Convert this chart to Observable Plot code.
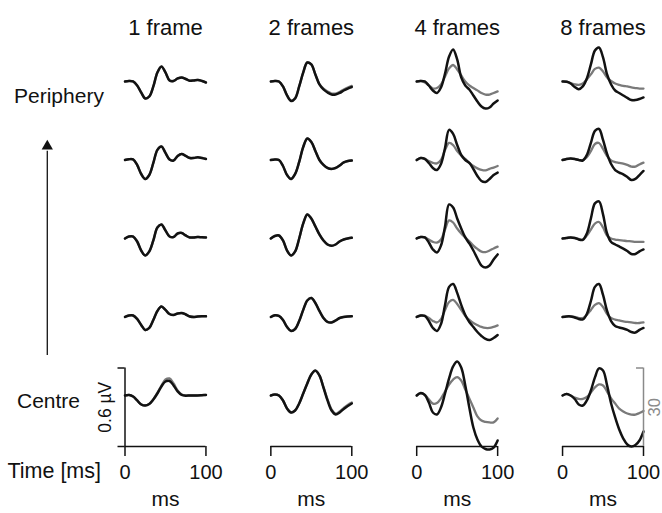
<!DOCTYPE html>
<html><head><meta charset="utf-8">
<script src="https://cdn.jsdelivr.net/npm/d3@7"></script>
<script src="https://cdn.jsdelivr.net/npm/@observablehq/plot@0.6"></script>
<style>html,body{margin:0;padding:0;background:#fff;}#chart{width:662px;height:513px;overflow:hidden;}</style>
</head><body><div id="chart"></div>
<script>
// Columns (stimulus duration) and rows (eccentricity, top = periphery)
const frames = ["1 frame", "2 frames", "4 frames", "8 frames"];
const rows = ["Periphery", "Ring 4", "Ring 3", "Ring 2", "Centre"];
const rowLabels = ["Periphery", "", "", "", "Centre"];
const times = [0, 5, 10, 15, 20, 25, 30, 35, 40, 45, 50, 55, 60, 65, 70, 75, 80, 85, 90, 95, 100]; // ms
const xTicks = [0, 100];
const blackScaleBar = 0.6;   // µV
const grayScaleBar = 30;     // gray-trace units

// Black traces (µV, relative to baseline); one array per column
const black_r1 = [
  [0, 0.004, 0, -0.031, -0.084, -0.130, -0.115, -0.038, 0.069, 0.115, 0.069, 0.008, 0.004, 0.023, 0.031, 0.019, 0.006, 0.008, 0.011, 0.004, -0.008],
  [0, 0.004, 0, -0.038, -0.107, -0.149, -0.130, -0.038, 0.069, 0.145, 0.130, 0.054, -0.023, -0.061, -0.084, -0.099, -0.099, -0.088, -0.069, -0.054, -0.042],
  [0, 0.004, 0, -0.031, -0.069, -0.088, -0.046, 0.061, 0.191, 0.245, 0.168, 0.031, -0.031, -0.061, -0.107, -0.153, -0.191, -0.207, -0.199, -0.168, -0.145],
  [0, -0.002, -0.015, -0.042, -0.059, -0.038, 0.023, 0.130, 0.237, 0.260, 0.184, 0.054, -0.023, -0.069, -0.088, -0.107, -0.126, -0.142, -0.142, -0.134, -0.122]
];
const black_r2 = [
  [0, 0.006, 0.004, -0.038, -0.107, -0.145, -0.115, -0.023, 0.077, 0.103, 0.054, 0.004, -0.004, 0.031, 0.046, 0.031, 0.015, 0.015, 0.021, 0.015, 0.008],
  [0, 0.004, 0, -0.046, -0.115, -0.145, -0.107, -0.015, 0.099, 0.164, 0.138, 0.069, 0, -0.038, -0.061, -0.069, -0.061, -0.042, -0.019, -0.008, -0.004],
  [0, 0.015, 0.008, -0.023, -0.061, -0.077, -0.031, 0.092, 0.230, 0.199, 0.115, 0.038, 0, -0.023, -0.069, -0.122, -0.161, -0.168, -0.145, -0.115, -0.096],
  [0, 0.008, 0.012, 0.008, 0, -0.004, 0.038, 0.130, 0.222, 0.237, 0.153, 0.046, -0.031, -0.077, -0.096, -0.110, -0.130, -0.153, -0.145, -0.115, -0.084]
];
const black_r3 = [
  [0, 0.015, 0.015, -0.023, -0.092, -0.130, -0.099, -0.015, 0.084, 0.107, 0.061, 0.015, 0.011, 0.038, 0.042, 0.023, 0.008, 0.008, 0.011, 0.009, 0.008],
  [0, 0.019, 0.023, -0.015, -0.092, -0.130, -0.099, 0, 0.115, 0.184, 0.153, 0.092, 0.031, -0.015, -0.046, -0.056, -0.046, -0.023, -0.008, 0, 0.005],
  [0, 0.011, 0.008, -0.031, -0.084, -0.107, -0.054, 0.092, 0.260, 0.237, 0.153, 0.077, 0.008, -0.038, -0.092, -0.153, -0.207, -0.222, -0.207, -0.161, -0.122],
  [0, 0.004, 0.008, 0.004, -0.008, -0.011, 0.038, 0.153, 0.268, 0.283, 0.184, 0.038, -0.027, -0.046, -0.061, -0.077, -0.096, -0.119, -0.119, -0.099, -0.084]
];
const black_r4 = [
  [0, 0.011, 0.011, -0.015, -0.061, -0.099, -0.084, -0.023, 0.046, 0.080, 0.054, 0.023, 0.015, 0.027, 0.031, 0.019, 0.004, 0, 0.004, 0.006, 0.005],
  [0, 0.013, 0.008, -0.023, -0.077, -0.107, -0.092, -0.031, 0.054, 0.126, 0.145, 0.107, 0.046, -0.008, -0.038, -0.042, -0.027, -0.008, 0, 0.004, 0.005],
  [0, 0.011, 0.008, -0.031, -0.084, -0.107, -0.054, 0.092, 0.230, 0.252, 0.184, 0.092, 0.015, -0.038, -0.077, -0.115, -0.145, -0.168, -0.176, -0.161, -0.138],
  [0, 0.004, 0.004, -0.004, -0.015, -0.019, 0.023, 0.122, 0.230, 0.252, 0.168, 0.046, -0.031, -0.069, -0.080, -0.088, -0.099, -0.115, -0.119, -0.099, -0.084]
];
const black_r5 = [
  [0, 0.004, -0.008, -0.038, -0.069, -0.077, -0.065, -0.031, 0.015, 0.069, 0.107, 0.111, 0.077, 0.031, 0.004, -0.002, 0, 0, 0, 0.002, 0.004],
  [0, 0.008, 0, -0.038, -0.099, -0.130, -0.115, -0.061, 0.015, 0.092, 0.161, 0.191, 0.153, 0.061, -0.038, -0.115, -0.145, -0.130, -0.103, -0.080, -0.061],
  [0, 0.018, 0.004, -0.054, -0.130, -0.145, -0.092, 0.015, 0.130, 0.222, 0.260, 0.214, 0.077, -0.092, -0.245, -0.337, -0.390, -0.409, -0.413, -0.398, -0.344],
  [0, 0.012, 0, -0.027, -0.069, -0.077, -0.038, 0.038, 0.138, 0.207, 0.191, 0.077, -0.061, -0.168, -0.260, -0.329, -0.375, -0.390, -0.379, -0.344, -0.275]
];

// Gray traces (gray-axis units, relative to baseline)
const gray_r1 = [
  [0, 0.2, 0, -1.5, -4.2, -6.5, -5.7, -1.9, 3.4, 5.7, 3.4, 0.4, 0.2, 1.1, 1.5, 1.0, 0.3, 0.4, 0.6, 0.2, -0.4],
  [0, 0.2, 0, -1.9, -5.3, -7.3, -6.3, -1.9, 3.4, 7.3, 6.5, 2.7, -1.0, -2.7, -3.8, -4.6, -4.6, -4.0, -3.1, -2.3, -1.7],
  [0, 0.2, -0.4, -1.5, -2.7, -2.5, -1.1, 1.9, 5.0, 6.3, 4.6, 2.3, 0, -1.5, -2.5, -3.4, -4.4, -5.0, -5.0, -4.4, -3.8],
  [0, -0.1, -0.6, -1.1, -1.3, -0.8, 0.8, 2.7, 4.8, 5.3, 3.8, 1.5, 0.2, -0.8, -1.3, -1.7, -1.9, -2.3, -2.5, -2.7, -2.7]
];
const gray_r2 = [
  [0, 0.3, 0.2, -1.9, -5.3, -7.3, -5.7, -1.1, 3.8, 5.2, 2.7, 0.2, -0.2, 1.5, 2.3, 1.5, 0.8, 0.8, 1.0, 0.8, 0.4],
  [0, 0.2, 0, -2.3, -5.7, -7.3, -5.3, -0.8, 5.0, 8.2, 6.9, 3.4, 0, -1.9, -3.1, -3.4, -3.1, -2.1, -1.0, -0.4, -0.2],
  [0, 0.8, 0.4, -0.4, -1.1, -1.3, 0, 3.8, 6.5, 5.7, 3.4, 1.7, 0.4, -1.1, -2.3, -3.2, -3.8, -4.0, -3.4, -2.9, -2.3],
  [0, 0.4, 0.6, 0.4, 0, 0, 1.1, 3.4, 6.1, 6.5, 4.2, 1.5, -0.2, -0.8, -1.1, -1.4, -1.9, -2.5, -2.5, -1.7, -1.0]
];
const gray_r3 = [
  [0, 0.8, 0.8, -1.1, -4.6, -6.5, -5.0, -0.8, 4.2, 5.3, 3.1, 0.8, 0.6, 1.9, 2.1, 1.1, 0.4, 0.4, 0.6, 0.5, 0.4],
  [0, 1.0, 1.1, -0.8, -4.6, -6.5, -5.0, 0, 5.7, 9.2, 7.6, 4.6, 1.5, -0.8, -2.3, -2.8, -2.3, -1.1, -0.4, 0, 0.3],
  [0, 0.6, 0.4, -0.4, -1.3, -1.6, -0.4, 3.4, 6.9, 6.1, 3.8, 1.9, 0.4, -1.1, -2.7, -4.0, -5.0, -5.2, -4.6, -3.8, -3.1],
  [0, 0.2, 0.4, 0.2, -0.2, -0.4, 1.1, 3.4, 5.7, 6.3, 4.2, 1.1, 0, -0.4, -0.6, -0.8, -1.0, -1.1, -1.3, -1.3, -1.3]
];
const gray_r4 = [
  [0, 0.6, 0.6, -0.8, -3.1, -5.0, -4.2, -1.1, 2.3, 4.0, 2.7, 1.1, 0.8, 1.3, 1.5, 1.0, 0.2, 0, 0.2, 0.3, 0.3],
  [0, 0.6, 0.4, -1.1, -3.8, -5.3, -4.6, -1.5, 2.7, 6.3, 7.3, 5.3, 2.3, -0.4, -1.9, -2.1, -1.3, -0.4, 0, 0.2, 0.3],
  [0, 0.6, 0.4, -0.4, -1.5, -2.1, -0.8, 2.7, 5.7, 6.5, 5.0, 2.7, 0.4, -1.1, -2.3, -3.1, -3.8, -4.2, -4.2, -3.8, -3.2],
  [0, 0.2, 0.2, 0, -0.4, -0.4, 0.8, 2.7, 4.6, 5.3, 3.8, 1.1, -0.4, -1.0, -1.3, -1.7, -1.9, -2.1, -2.3, -2.3, -2.1]
];
const gray_r5 = [
  [0, 0.2, -0.4, -1.9, -3.4, -3.8, -3.2, -1.5, 1.0, 3.8, 6.1, 6.5, 4.6, 1.9, 0.4, 0, 0, 0, 0, 0.1, 0.2],
  [0, 0.4, 0, -1.9, -5.0, -6.5, -5.7, -3.1, 0.8, 4.6, 8.0, 9.4, 7.6, 3.2, -1.5, -5.3, -6.9, -6.1, -4.8, -3.6, -2.7],
  [0, 0.8, 0.2, -1.5, -3.1, -2.9, -1.1, 1.5, 4.2, 6.1, 7.0, 5.7, 2.3, -1.1, -4.6, -8.0, -9.6, -10.1, -10.3, -10.3, -8.8],
  [0, 0.6, 0, -0.8, -1.3, -1.3, -0.6, 1.1, 3.1, 4.2, 3.8, 1.5, -1.1, -3.1, -5.0, -6.1, -6.9, -7.3, -7.3, -6.7, -5.9]
];

// Vertical extent of each panel = the 0.6 µV scale bar
const yMin = -0.39, yMax = yMin + blackScaleBar;
const grayToUV = blackScaleBar / grayScaleBar;

// Arrow annotation (left margin, drawn in the Centre / 1-frame panel's coordinates)
const arrowX = -96, arrowFrom = 0.31, arrowTo = 1.87, arrowHead = 1.905;

const blackRows = [black_r1, black_r2, black_r3, black_r4, black_r5];
const grayRows = [gray_r1, gray_r2, gray_r3, gray_r4, gray_r5];
const traces = [];
rows.forEach((row, i) => frames.forEach((frame, j) => times.forEach((t, k) => {
  traces.push({row, frame, t, black: blackRows[i][j][k], gray: grayRows[i][j][k]});
})));
const bottomCells = frames.map(frame => ({frame, row: rows[rows.length - 1]}));
const firstCell = [{frame: frames[0], row: rows[rows.length - 1]}];
const lastCell = [{frame: frames[frames.length - 1], row: rows[rows.length - 1]}];
const periCell = [{frame: frames[0], row: rows[0], label: rowLabels[0]}];
const centreCell = [{frame: frames[0], row: rows[4], label: rowLabels[4]}];

const ink = "#121212", grayInk = "#7a7a7a";

const chart = Plot.plot({
  width: 662, height: 513,
  marginLeft: 124.5, marginRight: 19, marginTop: 53.5, marginBottom: 67,
  style: {fontFamily: "Arial, 'Liberation Sans', sans-serif", fontSize: "19px", color: "#111", background: "#fff", overflow: "visible"},
  fx: {domain: frames, paddingInner: 0.445, paddingOuter: 0, round: false, label: null},
  fy: {domain: rows, padding: 0, round: false, axis: null, label: null},
  x: {domain: [0, 100]},
  y: {domain: [yMin, yMax], axis: null},
  marks: [
    Plot.axisFx({anchor: "top", tickSize: 0, tickPadding: 19, label: null, fontSize: 22}),
    // traces
    Plot.line(traces, {fx: "frame", fy: "row", x: "t", y: d => d.gray * grayToUV, stroke: grayInk, strokeWidth: 2.3, curve: "catmull-rom"}),
    Plot.line(traces, {fx: "frame", fy: "row", x: "t", y: "black", stroke: ink, strokeWidth: 2.5, curve: "catmull-rom"}),
    // time axes (bottom row)
    Plot.ruleY(bottomCells, {fx: "frame", fy: "row", y: yMin, stroke: ink, strokeWidth: 1.5}),
    Plot.axisX({ticks: xTicks, tickSize: 10, tickPadding: 8, label: null, fontSize: 20, strokeWidth: 1.5}),
    Plot.text(bottomCells, {fx: "frame", fy: "row", x: 50, frameAnchor: "bottom", dy: 53, text: () => "ms", lineAnchor: "middle", fontSize: 21}),
    Plot.text(firstCell, {fx: "frame", fy: "row", frameAnchor: "bottom-left", dx: -24, dy: 25, textAnchor: "end", lineAnchor: "middle", text: () => "Time [ms]", fontSize: 21.5}),
    // 0.6 µV scale bar
    Plot.ruleX(firstCell, {fx: "frame", fy: "row", x: 0, y1: yMin, y2: yMax, stroke: ink, strokeWidth: 1.5}),
    Plot.ruleY([yMin, yMax], {fx: () => frames[0], fy: () => rows[4], y: d => d, x1: 0, x2: 0, insetLeft: -7, stroke: ink, strokeWidth: 1.5}),
    Plot.text(firstCell, {fx: "frame", fy: "row", x: 0, y: (yMin + yMax) / 2, rotate: -90, dx: -20, text: () => `${blackScaleBar} µV`, textAnchor: "middle", lineAnchor: "middle", fontSize: 17.5}),
    // gray scale bar (30 units)
    Plot.ruleX(lastCell, {fx: "frame", fy: "row", x: 100, y1: yMin, y2: yMax, stroke: "#8a8a8a", strokeWidth: 1.5}),
    Plot.ruleY([yMax], {fx: () => frames[3], fy: () => rows[4], y: d => d, x1: 100, x2: 100, insetLeft: -7, stroke: "#8a8a8a", strokeWidth: 1.5}),
    Plot.text(lastCell, {fx: "frame", fy: "row", x: 100, y: (yMin + yMax) / 2, rotate: -90, dx: 11, text: () => `${grayScaleBar}`, textAnchor: "middle", lineAnchor: "middle", fill: "#8a8a8a", fontSize: 16.5}),
    // row labels
    Plot.text(periCell, {fx: "frame", fy: "row", y: 0, frameAnchor: "left", dx: -111, dy: 15, textAnchor: "start", lineAnchor: "middle", text: "label", fontSize: 21}),
    Plot.text(centreCell, {fx: "frame", fy: "row", y: 0, frameAnchor: "left", dx: -108, dy: 6, textAnchor: "start", lineAnchor: "middle", text: "label", fontSize: 21}),
    // periphery arrow
    Plot.link(firstCell, {fx: "frame", fy: "row", x1: arrowX, x2: arrowX, y1: arrowFrom, y2: arrowTo, stroke: ink, strokeWidth: 1.3}),
    Plot.dot(firstCell, {fx: "frame", fy: "row", x: arrowX, y: arrowHead, symbol: "triangle", r: 4.2, fill: ink, stroke: null})
  ]
});
document.getElementById("chart").appendChild(chart);
</script>
</body></html>
